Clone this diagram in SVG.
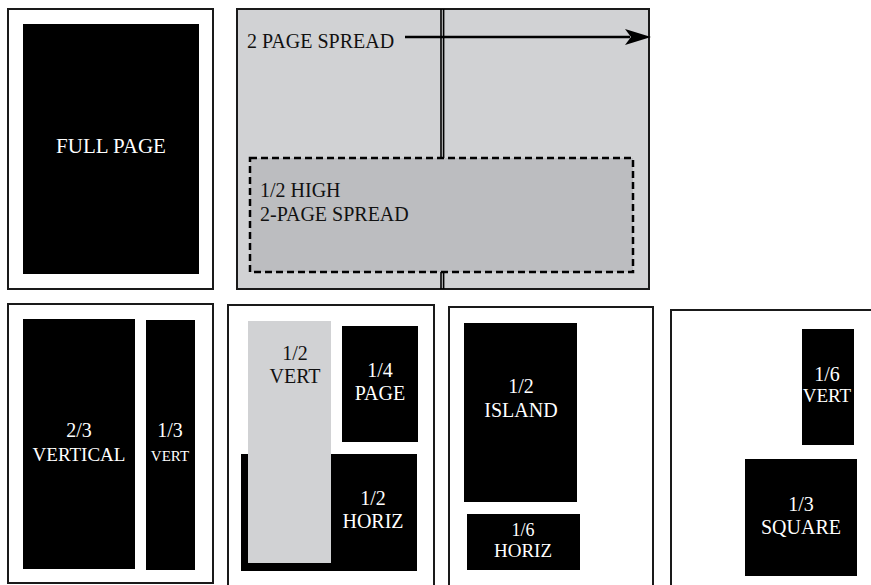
<svg xmlns="http://www.w3.org/2000/svg" width="871" height="585" viewBox="0 0 871 585">
<defs>
<style>
.page{fill:#ffffff;stroke:#1a1a1a;stroke-width:2}
.spread{fill:#d1d2d4;stroke:#1a1a1a;stroke-width:2}
.ad{fill:#000000}
.ad-gray{fill:#d1d2d4}
.half{fill:#bcbdc0;stroke:#000;stroke-width:2.5;stroke-dasharray:7 4}
.lbl{font-family:"Liberation Serif","DejaVu Serif",serif;font-size:20px;fill:#ffffff;text-anchor:middle}
.dark{fill:#111111}
.start{text-anchor:start}
</style>
</defs>
<g id="full-page">
<rect class="page" x="8" y="9" width="205" height="280"/>
<rect class="ad" x="23" y="24" width="176" height="250"/>
<text class="lbl" x="111" y="153" style="font-size:21px">FULL PAGE</text>
</g>
<g id="two-page-spread">
<rect class="spread" x="237" y="9" width="412" height="280"/>
<line x1="441" y1="9" x2="441" y2="289" stroke="#000" stroke-width="1.6"/>
<line x1="443.6" y1="9" x2="443.6" y2="289" stroke="#000" stroke-width="1.6"/>
<text class="lbl dark start" x="247" y="48">2 PAGE SPREAD</text>
</g>
<g id="half-high-spread">
<rect class="half" x="250" y="158" width="383" height="114"/>
<text class="lbl dark start" x="260" y="197">1/2 HIGH</text>
<text class="lbl dark start" x="260" y="221">2-PAGE SPREAD</text>
</g>
<g id="connectors">
<line x1="405" y1="37" x2="630" y2="37" stroke="#000" stroke-width="2.5"/>
<path d="M651,37 L625,29 L631,37 L625,45 Z" fill="#000"/>
</g>
<g id="two-thirds-page">
<rect class="page" x="8" y="304" width="205" height="279"/>
<rect class="ad" x="23" y="319" width="112" height="250"/>
<text class="lbl" x="79" y="437">2/3</text>
<text class="lbl" x="79" y="461" style="font-size:19px">VERTICAL</text>
<rect class="ad" x="146" y="320" width="49" height="250"/>
<text class="lbl" x="170" y="437">1/3</text>
<text class="lbl" x="170" y="461" style="font-size:15px">VERT</text>
</g>
<g id="half-quarter-page">
<rect class="page" x="228" y="305" width="206" height="290"/>
<rect class="ad" x="241" y="454" width="176" height="117"/>
<rect class="ad-gray" x="248" y="321" width="83" height="242"/>
<text class="lbl dark" x="295" y="360">1/2</text>
<text class="lbl dark" x="295" y="383">VERT</text>
<rect class="ad" x="342" y="326" width="76" height="116"/>
<text class="lbl" x="380" y="377">1/4</text>
<text class="lbl" x="380" y="400">PAGE</text>
<text class="lbl" x="373" y="505">1/2</text>
<text class="lbl" x="373" y="528">HORIZ</text>
</g>
<g id="island-page">
<rect class="page" x="449" y="307" width="204" height="290"/>
<rect class="ad" x="464" y="323" width="113" height="179"/>
<text class="lbl" x="521" y="393">1/2</text>
<text class="lbl" x="521" y="417">ISLAND</text>
<rect class="ad" x="467" y="514" width="113" height="56"/>
<text class="lbl" x="523" y="536" style="font-size:18px">1/6</text>
<text class="lbl" x="523" y="557" style="font-size:19px">HORIZ</text>
</g>
<g id="sixth-third-page">
<rect class="page" x="671" y="310" width="220" height="290"/>
<rect class="ad" x="802" y="329" width="52" height="116"/>
<text class="lbl" x="827" y="381">1/6</text>
<text class="lbl" x="827" y="402" style="font-size:19px">VERT</text>
<rect class="ad" x="745" y="459" width="112" height="117"/>
<text class="lbl" x="801" y="511">1/3</text>
<text class="lbl" x="801" y="534">SQUARE</text>
</g>
</svg>
